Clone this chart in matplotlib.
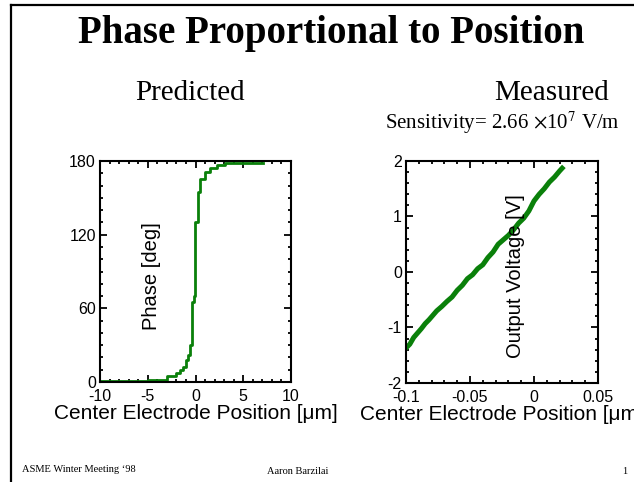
import matplotlib
matplotlib.use('Agg')
import matplotlib.pyplot as plt
from matplotlib.ticker import MultipleLocator

plt.rcParams['mathtext.fontset'] = 'stix'
plt.rcParams['axes.unicode_minus'] = False

# predicted phase (staircase from simulation)
x_pred = [-10, -5, -3, -2, -1.6, -1.3, -1.0, -0.75, -0.55, -0.33, -0.2, -0.05,
          0.25, 0.5, 1.0, 1.5, 2.2, 3.1, 7.1]
phase_pred = [1, 2, 5, 7.5, 10, 12.5, 18, 22, 30, 65, 70, 130,
              155, 165, 171, 174.5, 176.5, 178, 178]

# measured output voltage
x_meas = [-0.1, -0.097, -0.094, -0.091, -0.088, -0.085, -0.082, -0.079, -0.076,
          -0.072, -0.068, -0.064, -0.060, -0.056, -0.052, -0.048, -0.044, -0.040,
          -0.036, -0.032, -0.028, -0.024, -0.020, -0.016, -0.012, -0.008, -0.004,
          0.0, 0.004, 0.008, 0.012, 0.016, 0.020, 0.022]
v_meas = [-1.37, -1.30, -1.18, -1.10, -1.02, -0.93, -0.86, -0.78, -0.70,
          -0.62, -0.53, -0.45, -0.33, -0.24, -0.12, -0.05, 0.06, 0.13,
          0.26, 0.36, 0.50, 0.58, 0.66, 0.76, 0.88, 0.97, 1.10,
          1.28, 1.40, 1.50, 1.62, 1.71, 1.82, 1.87]

green = '#0a800a'
sans = 'Liberation Sans'
serif = 'Liberation Serif'

fig = plt.figure(figsize=(6.34, 4.82), dpi=100)

# slide border (top and left)
fig.add_artist(plt.Line2D([11/634, 1], [1 - 5/482, 1 - 5/482], color='black', lw=1.6))
fig.add_artist(plt.Line2D([11/634, 11/634], [0, 1 - 5/482], color='black', lw=1.6))

def style(ax):
    for s in ax.spines.values():
        s.set_linewidth(1.5)
    ax.tick_params(which='both', direction='in', top=True, right=True, width=1.3,
                   labelsize=11.5)
    ax.tick_params(axis='x', pad=5)
    ax.tick_params(axis='y', pad=3)
    ax.tick_params(which='major', length=5)
    ax.tick_params(which='minor', length=2.5)
    for lab in ax.get_xticklabels() + ax.get_yticklabels():
        lab.set_family(sans)

ax1 = fig.add_axes([100/634, 1 - 382/482, 191/634, 221/482])
ax1.plot(x_pred, phase_pred, color=green, lw=2.0, drawstyle='steps-post')
ax1.set_xlim(-10, 10)
ax1.set_ylim(0, 180)
ax1.set_xticks([-10, -5, 0, 5, 10])
ax1.set_yticks([0, 60, 120, 180])
ax1.xaxis.set_minor_locator(MultipleLocator(1))
ax1.yaxis.set_minor_locator(MultipleLocator(10))
style(ax1)
ax1.text(0.27, 0.48, 'Phase [deg]', transform=ax1.transAxes, rotation=90,
         ha='center', va='center', fontsize=14.5, family=sans)
ax1.set_xlabel('Center Electrode Position [μm]', fontsize=15, family=sans, labelpad=0)

ax2 = fig.add_axes([406/634, 1 - 383/482, 192/634, 222/482])
ax2.plot(x_meas, v_meas, color=green, lw=3.6)
ax2.set_xlim(-0.1, 0.05)
ax2.set_ylim(-2, 2)
ax2.set_xticks([-0.1, -0.05, 0, 0.05])
ax2.set_xticklabels(['-0.1', '-0.05', '0', '0.05'])
ax2.set_yticks([-2, -1, 0, 1, 2])
ax2.set_yticklabels(['-2', '-1', '0', '1', '2'])
ax2.xaxis.set_minor_locator(MultipleLocator(0.01))
ax2.yaxis.set_minor_locator(MultipleLocator(0.2))
style(ax2)
ax2.text(0.57, 0.48, 'Output Voltage [V]', transform=ax2.transAxes, rotation=90,
         ha='center', va='center', fontsize=14.5, family=sans)
ax2.set_xlabel('Center Electrode Position [μm]', fontsize=15, family=sans, labelpad=0)

fig.text(331/634, 1 - 33/482, 'Phase Proportional to Position', ha='center', va='center',
         fontsize=28, fontweight='bold', family=serif)
fig.text(190/634, 1 - 93/482, 'Predicted', ha='center', va='center', fontsize=21, family=serif)
fig.text(552/634, 1 - 93/482, 'Measured', ha='center', va='center', fontsize=21, family=serif)
fig.text(502/634, 1 - 123/482, r'Sensitivity= 2.66 $\times$10$^{7}$ V/m', ha='center',
         va='center', fontsize=15, family=serif)

fig.text(22/634, 1 - 470/482, 'ASME Winter Meeting \u201898', ha='left', va='center',
         fontsize=7.5, family=serif)
fig.text(298/634, 1 - 472/482, 'Aaron Barzilai', ha='center', va='center',
         fontsize=7.5, family=serif)
fig.text(625/634, 1 - 472/482, '1', ha='center', va='center', fontsize=7.5, family=serif)

fig.savefig('out.png', dpi=100)
